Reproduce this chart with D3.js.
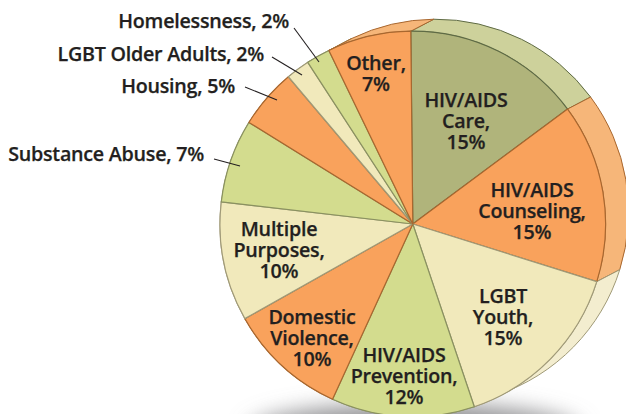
<!DOCTYPE html>
<html>
<head>
<meta charset="utf-8">
<script src="https://cdn.jsdelivr.net/npm/d3@7"></script>
<style>
html, body { margin: 0; padding: 0; background: #fff; }
svg { display: block; }
text { font-family: "Open Sans", "Noto Sans", sans-serif; font-weight: 600; fill: #231f20; stroke: #231f20; stroke-width: 0.25; }
</style>
</head>
<body>
<svg id="chart" width="626" height="414"></svg>
<script>
// Share of funding by purpose, clockwise from the top of the pie
const categories = ["HIV/AIDS Care", "HIV/AIDS Counseling", "LGBT Youth", "HIV/AIDS Prevention",
  "Domestic Violence", "Multiple Purposes", "Substance Abuse", "Housing",
  "LGBT Older Adults", "Homelessness", "Other"];
const shares = [15, 15, 15, 12, 10, 10, 7, 5, 2, 2, 7];

// Text lines for each wedge
const labelLines = [
  ["HIV/AIDS", "Care,", "15%"],
  ["HIV/AIDS", "Counseling,", "15%"],
  ["LGBT", "Youth,", "15%"],
  ["HIV/AIDS", "Prevention,", "12%"],
  ["Domestic", "Violence,", "10%"],
  ["Multiple", "Purposes,", "10%"],
  ["Substance Abuse, 7%"],
  ["Housing, 5%"],
  ["LGBT Older Adults, 2%"],
  ["Homelessness, 2%"],
  ["Other,", "7%"]
];

// Layout: label anchor (x, first baseline) per wedge
const labelAnchors = [
  [466, 107], [532, 197], [503, 303], [404, 362], [312, 324], [279, 236],
  [204, 161], [235, 93], [264, 61], [289, 28], [376, 70]
];
// Leader lines for the wedges too narrow to hold their text
const leaders = new Map([
  [6, [[214, 159], [240, 166]]],
  [7, [[245, 87], [277, 100]]],
  [8, [[272, 57], [302, 75]]],
  [9, [[294, 28], [319, 62]]]
]);

const palette = {
  care:   { fill: "#b0b47b", rim: "#cdd19b", line: "#5f6b45" },
  orange: { fill: "#f9a25c", rim: "#f6b679", line: "#a8672f" },
  green:  { fill: "#d3dc8e", rim: "#d3dc8e", line: "#8a9160" },
  cream:  { fill: "#f1e9bb", rim: "#f3edcf", line: "#a09a78" }
};
const wedgeStyle = ["care", "orange", "cream", "green", "orange", "cream", "green", "orange", "cream", "green", "orange"];

const cx = 412.8, cy = 224, radius = 192.8;
const depth = { x: 23, y: -12 };
const startDeg = -0.6;

const svg = d3.select("#chart");

const defs = svg.append("defs");
const blur = defs.append("filter").attr("id", "soft")
  .attr("x", "-30%").attr("y", "-150%").attr("width", "160%").attr("height", "400%");
blur.append("feGaussianBlur").attr("stdDeviation", 11);

// Soft ground shadow beneath the pie
svg.append("ellipse")
  .attr("cx", cx + 2).attr("cy", 432)
  .attr("rx", 165).attr("ry", 28)
  .attr("fill", "#8f8f92").attr("filter", "url(#soft)");

const pie = d3.pie().sort(null)
  .startAngle(startDeg * Math.PI / 180)
  .endAngle((startDeg + 360) * Math.PI / 180);
const wedges = pie(shares);

const toCanvas = a => a - Math.PI / 2;

// Extruded rim: band between the front arc and the same arc pushed back
const rimPath = d => {
  const p = d3.path();
  p.arc(cx, cy, radius, toCanvas(d.startAngle), toCanvas(d.endAngle));
  p.arc(cx + depth.x, cy + depth.y, radius, toCanvas(d.endAngle), toCanvas(d.startAngle), true);
  p.closePath();
  return p.toString();
};

svg.append("g").selectAll("path").data(wedges).join("path")
  .attr("d", rimPath)
  .attr("fill", (d, i) => palette[wedgeStyle[i]].rim)
  .attr("stroke", (d, i) => palette[wedgeStyle[i]].line)
  .attr("stroke-width", 1);

const arc = d3.arc().innerRadius(0).outerRadius(radius);
svg.append("g").attr("transform", `translate(${cx},${cy})`)
  .selectAll("path").data(wedges).join("path")
  .attr("d", arc)
  .attr("fill", (d, i) => palette[wedgeStyle[i]].fill)
  .attr("stroke", (d, i) => palette[wedgeStyle[i]].line)
  .attr("stroke-width", 1.2)
  .attr("stroke-linejoin", "round");

// Leader lines
svg.append("g").selectAll("line").data([...leaders.values()]).join("line")
  .attr("x1", d => d[0][0]).attr("y1", d => d[0][1])
  .attr("x2", d => d[1][0]).attr("y2", d => d[1][1])
  .attr("stroke", "#231f20").attr("stroke-width", 1.1);

// Labels: wedge text is centred, outside text ends at its leader line
const labels = svg.append("g").selectAll("text").data(categories).join("text")
  .attr("font-size", 19.7)
  .attr("text-anchor", (d, i) => leaders.has(i) ? "end" : "middle")
  .attr("letter-spacing", -0.25);
labels.each(function (d, i) {
  const [x, y] = labelAnchors[i];
  d3.select(this).selectAll("tspan").data(labelLines[i]).join("tspan")
    .attr("x", x)
    .attr("y", (t, k) => y + k * 21.2)
    .text(t => t);
});
</script>
</body>
</html>
